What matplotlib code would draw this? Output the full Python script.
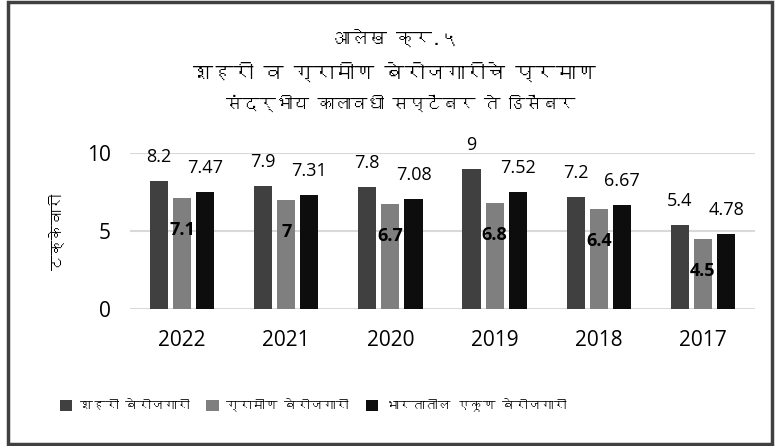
import matplotlib
matplotlib.use("Agg")
import matplotlib.pyplot as plt
import numpy as np
from matplotlib import font_manager as fm
from matplotlib.ft2font import FT2Font
from matplotlib.patches import Rectangle

years = ["2022", "2021", "2020", "2019", "2018", "2017"]
urban = [8.2, 7.9, 7.8, 9.0, 7.2, 5.4]
rural = [7.1, 7.0, 6.7, 6.8, 6.4, 4.5]
total = [7.47, 7.31, 7.08, 7.52, 6.67, 4.78]
urban_lbl = ["8.2", "7.9", "7.8", "9", "7.2", "5.4"]
rural_lbl = ["7.1", "7", "6.7", "6.8", "6.4", "4.5"]
total_lbl = ["7.47", "7.31", "7.08", "7.52", "6.67", "4.78"]
series_names = ["शहरी बेरोजगारी", "ग्रामीण बेरोजगारी", "भारतातील एकूण बेरोजगारी"]
title1 = "आलेख क्र.५"
title2 = "शहरी व ग्रामीण बेरोजगारीचे प्रमाण"
title3 = "संदर्भीय कालावधी सप्टेंबर ते डिसेंबर"
ylabel = "टक्केवारी"
colors = ["#404040", "#7f7f7f", "#0d0d0d"]


def find_family(ch):
    seen = set()
    for f in fm.fontManager.ttflist:
        if f.fname in seen:
            continue
        seen.add(f.fname)
        try:
            if ord(ch) in FT2Font(f.fname).get_charmap():
                return f.name
        except Exception:
            pass
    return None

deva = find_family("श")
latin = "Open Sans"
fam = [latin] + ([deva] if deva else []) + ["DejaVu Sans"]
dfam = ([deva] if deva else []) + ["DejaVu Sans"]
plt.rcParams["font.family"] = fam

W, H = 776, 446
fig = plt.figure(figsize=(W / 100, H / 100), dpi=100)
ax = fig.add_axes([130 / W, 1 - 309 / H, 625 / W, 156 / H])

x = np.arange(len(years))
bw = 0.174
step = 0.222
bars = []
for i, (vals, c) in enumerate(zip([urban, rural, total], colors)):
    b = ax.bar(x + (i - 1) * step, vals, bw, color=c, label=series_names[i], zorder=3)
    bars.append(b)

for rect, t in zip(bars[0], urban_lbl):
    ax.annotate(t, (rect.get_x() + rect.get_width() / 2, rect.get_height()),
                xytext=(0, 15), textcoords="offset pixels", ha="center", va="bottom",
                fontsize=13, color="#000000", family=latin)
for rect, t in zip(bars[2], total_lbl):
    ax.annotate(t, (rect.get_x() + rect.get_width() / 2, rect.get_height()),
                xytext=(0, 15), textcoords="offset pixels", ha="center", va="bottom",
                fontsize=13, color="#000000", family=latin)
for rect, t in zip(bars[1], rural_lbl):
    ax.annotate(t, (rect.get_x() + rect.get_width() / 2, rect.get_height()),
                xytext=(0, -32), textcoords="offset pixels", ha="center", va="center",
                fontsize=13, fontweight="bold", color="#000000", family=latin, zorder=5)

ax.set_xlim(-0.5, len(years) - 0.5)
ax.set_ylim(0, 10)
ax.set_yticks([0, 5, 10])
ax.set_xticks(x)
ax.set_xticklabels(years)
ax.tick_params(axis="both", length=0, labelsize=15, colors="#000000")
ax.tick_params(axis="x", pad=15)
ax.tick_params(axis="y", pad=14)
ax.yaxis.grid(True, color="#d9d9d9", linewidth=1.5, zorder=0)
for s in ax.spines.values():
    s.set_visible(False)

fig.text(57 / W, 1 - 232 / H, ylabel, rotation=90, ha="center", va="center",
         fontsize=11, family=dfam)

fig.text(396 / W, 1 - 38 / H, title1, ha="center", va="center", fontsize=13, family=dfam)
fig.text(394 / W, 1 - 72 / H, title2, ha="center", va="center", fontsize=14.5,
         fontweight="bold", family=dfam)
fig.text(401 / W, 1 - 103 / H, title3, ha="center", va="center", fontsize=12, family=dfam)

leg = fig.legend(loc="center", bbox_to_anchor=(313 / W, 1 - 405 / H), ncol=3, frameon=False,
                 handlelength=0.95, handleheight=0.95, columnspacing=1.3,
                 handletextpad=0.6, prop={"family": dfam, "size": 9.3})

fig.patches.append(Rectangle((8 / W, 2 / H), (W - 12) / W, (H - 4) / H, transform=fig.transFigure,
                             fill=False, edgecolor="#404040", linewidth=2.5))

fig.savefig("out.png", dpi=100)
